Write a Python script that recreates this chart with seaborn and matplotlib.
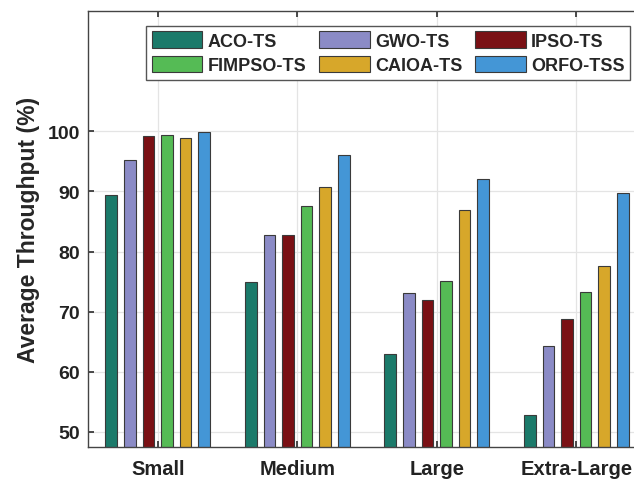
import matplotlib
matplotlib.use("Agg")
import matplotlib.pyplot as plt
from matplotlib.patches import Patch
import seaborn as sns
import pandas as pd

categories = ["Small", "Medium", "Large", "Extra-Large"]
methods = ["ACO-TS", "GWO-TS", "IPSO-TS", "FIMPSO-TS", "CAIOA-TS", "ORFO-TSS"]
aco_ts = [89.4, 75.0, 63.0, 52.9]
gwo_ts = [95.3, 82.7, 73.1, 64.3]
ipso_ts = [99.2, 82.8, 71.9, 68.8]
fimpso_ts = [99.3, 87.6, 75.1, 73.25]
caioa_ts = [98.8, 90.7, 86.9, 77.6]
orfo_tss = [99.8, 96.0, 92.0, 89.7]
colors = ["#1b7a6a", "#8b8bc6", "#7a1014", "#55bb55", "#d7a72a", "#4496d6"]

series = [aco_ts, gwo_ts, ipso_ts, fimpso_ts, caioa_ts, orfo_tss]
rows = []
for m, vals in zip(methods, series):
    for c, v in zip(categories, vals):
        rows.append({"size": c, "method": m, "value": v})
df = pd.DataFrame(rows)

sns.set_theme(style="whitegrid")
plt.rcParams["font.family"] = ["Liberation Sans", "DejaVu Sans"]

fig = plt.figure(figsize=(6.34, 4.81), dpi=100)
ax = fig.add_axes([88 / 634, 33 / 481, 558 / 634, 436 / 481])

sns.barplot(data=df, x="size", y="value", hue="method", order=categories,
            hue_order=methods, palette=colors, width=0.8, edgecolor="#3a3a3a",
            linewidth=0.8, saturation=1, legend=False, ax=ax)

shrink = 0.62
for p in ax.patches:
    w = p.get_width()
    x = p.get_x()
    p.set_width(w * shrink)
    p.set_x(x + w * (1 - shrink) / 2)

ax.set_xlim(-0.5, 3.5)
ax.set_ylim(47.5, 120)
ax.set_yticks([50, 60, 70, 80, 90, 100])
ax.set_xlabel("")
ax.set_ylabel("Average Throughput (%)", fontsize=16.5, fontweight="bold", labelpad=5)
ax.tick_params(axis="both", direction="in", length=4, color="#333333",
               top=True, bottom=True, left=True, right=False)
ax.tick_params(axis="x", labelsize=14.5, pad=9)
ax.tick_params(axis="y", labelsize=14, pad=6)
for lbl in ax.get_xticklabels() + ax.get_yticklabels():
    lbl.set_fontweight("bold")
    lbl.set_color("#222222")

ax.grid(True, axis="both", color="#e4e4e4", linewidth=0.9)
ax.set_axisbelow(True)
for s in ["left", "bottom", "top"]:
    ax.spines[s].set_visible(True)
    ax.spines[s].set_color("#444444")
    ax.spines[s].set_linewidth(1.0)
ax.spines["right"].set_visible(False)

order_idx = [0, 3, 1, 4, 2, 5]
handles = [Patch(facecolor=colors[i], edgecolor="#3a3a3a", linewidth=0.8) for i in order_idx]
labels = [methods[i] for i in order_idx]
leg = ax.legend(handles, labels, ncol=3, loc="upper right",
                bbox_to_anchor=(630 / 634, 1 - 27 / 481), bbox_transform=fig.transFigure,
                prop={"weight": "bold", "size": 13}, frameon=True, fancybox=False,
                framealpha=1, edgecolor="#555555", handlelength=2.8, handleheight=1.0,
                handletextpad=0.3, columnspacing=0.7, labelspacing=0.35, borderpad=0.3,
                borderaxespad=0)
leg.get_frame().set_linewidth(1.0)

fig.savefig("out.png", dpi=100)
